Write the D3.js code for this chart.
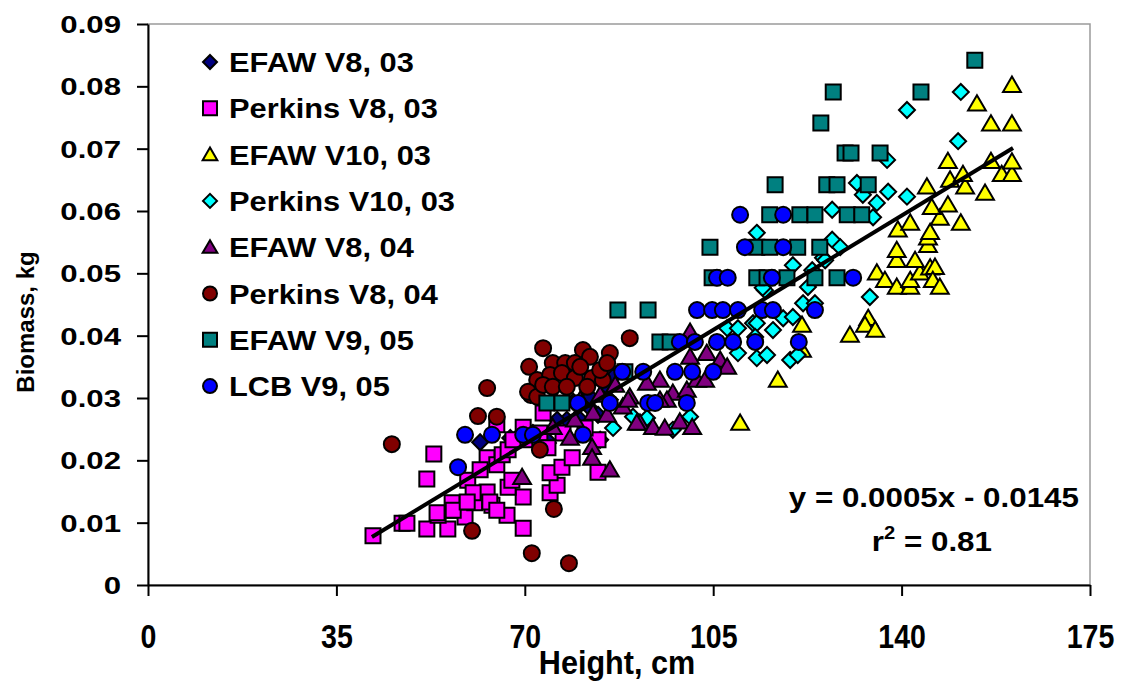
<!DOCTYPE html>
<html><head><meta charset="utf-8">
<script src="https://cdn.jsdelivr.net/npm/d3@7"></script>
<style>
html,body{margin:0;padding:0;background:#fff;}
svg{display:block;font-family:"Liberation Sans",Arial,sans-serif;font-weight:bold;}
</style></head>
<body><svg id="chart" width="1128" height="684"></svg>
<script>
// ---------- DATA ----------
const seriesNames = ["EFAW V8, 03","Perkins V8, 03","EFAW V10, 03","Perkins V10, 03","EFAW V8, 04","Perkins V8, 04","EFAW V9, 05","LCB V9, 05"];
const xTicks = [0,35,70,105,140,175];
const yTicks = [0,0.01,0.02,0.03,0.04,0.05,0.06,0.07,0.08,0.09];

const efawV8_03 = [[61.7,0.0229],[68.5,0.0231],[80.3,0.0265],[82.1,0.0284],[84.0,0.0233],[77.8,0.0265],[85.8,0.0297],[85.3,0.0318],[69.1,0.0241],[74.3,0.0228],[79.0,0.0294],[82.1,0.0302],[83.6,0.0273],[76.0,0.0265],[74.1,0.0233],[71.5,0.0244],[86.4,0.0334],[67.3,0.0236]];

const perkinsV8_03 = [[41.8,0.0079],[47.2,0.0099],[48.1,0.0099],[53.1,0.0210],[51.8,0.0170],[51.8,0.0090],[55.7,0.0090],[57.0,0.0120],[53.9,0.0112],[58.9,0.0109],[56.5,0.0132],[63.0,0.0149],[60.7,0.0132],[63.9,0.0128],[66.7,0.0112],[69.7,0.0091],[69.7,0.0141],[66.9,0.0157],[63.0,0.0204],[64.8,0.0193],[65.8,0.0209],[66.9,0.0217],[69.7,0.0253],[64.8,0.0257],[59.4,0.0168],[60.4,0.0148],[73.4,0.0276],[77.1,0.0244],[74.7,0.0148],[76.0,0.0160],[74.7,0.0180],[76.9,0.0189],[78.8,0.0204],[83.6,0.0181],[83.6,0.0233],[63.5,0.0133],[64.8,0.0120],[53.7,0.0116],[56.7,0.0120],[59.3,0.0133],[72.8,0.0244],[70.0,0.0233],[67.8,0.0233],[81.2,0.0252],[74.3,0.0220],[67.6,0.0168],[61.7,0.0185]];

const efawV10_03 = [[110.0,0.0260],[117.0,0.0329],[121.5,0.0377],[121.5,0.0417],[130.4,0.0401],[133.8,0.0428],[133.2,0.0417],[135.1,0.0409],[135.4,0.0501],[136.9,0.0489],[139.1,0.0478],[141.6,0.0478],[141.6,0.0489],[143.4,0.0501],[145.3,0.0509],[146.2,0.0510],[145.8,0.0489],[147.1,0.0478],[139.1,0.0521],[142.5,0.0521],[139.1,0.0537],[144.9,0.0545],[144.9,0.0557],[145.3,0.0566],[139.3,0.0570],[141.6,0.0581],[151.0,0.0581],[147.1,0.0589],[145.6,0.0606],[148.6,0.0610],[144.7,0.0639],[151.8,0.0639],[155.5,0.0629],[149.0,0.0650],[151.4,0.0659],[158.6,0.0659],[160.5,0.0659],[148.6,0.0680],[156.6,0.0680],[160.5,0.0679],[156.6,0.0740],[160.5,0.0740],[154.0,0.0772],[160.5,0.0802]];

const perkinsV10_03 = [[86.4,0.0252],[90.1,0.0270],[92.7,0.0268],[97.5,0.0249],[100.7,0.0270],[107.6,0.0412],[109.6,0.0412],[112.4,0.0420],[113.1,0.0565],[109.6,0.0372],[113.1,0.0364],[115.0,0.0369],[119.3,0.0361],[120.7,0.0369],[114.6,0.0473],[116.1,0.0409],[118.0,0.0428],[119.8,0.0430],[113.1,0.0420],[119.8,0.0513],[123.4,0.0505],[122.6,0.0478],[121.7,0.0452],[123.9,0.0452],[125.4,0.0525],[127.1,0.0554],[128.6,0.0542],[127.1,0.0602],[131.7,0.0645],[132.8,0.0626],[135.4,0.0613],[137.5,0.0631],[141.0,0.0623],[134.7,0.0590],[134.1,0.0462],[137.3,0.0682],[150.5,0.0712],[141.0,0.0762],[151.0,0.0791],[125.8,0.0521],[114.2,0.0477],[112.8,0.0398]];

const efawV8_04 = [[69.5,0.0173],[75.2,0.0253],[82.5,0.0221],[82.5,0.0204],[85.8,0.0185],[78.4,0.0236],[82.7,0.0276],[85.3,0.0273],[88.2,0.0286],[91.4,0.0260],[93.8,0.0253],[96.0,0.0252],[98.8,0.0262],[101.1,0.0253],[89.5,0.0302],[95.1,0.0329],[97.5,0.0308],[96.4,0.0297],[100.1,0.0313],[100.7,0.0366],[103.8,0.0372],[106.3,0.0361],[107.6,0.0350],[100.7,0.0406],[85.5,0.0356],[92.7,0.0324],[90.8,0.0260],[89.2,0.0297],[95.1,0.0297],[102.0,0.0329],[80.3,0.0297],[84.0,0.0305],[86.8,0.0321],[103.5,0.0329],[75.6,0.0297],[79.3,0.0265]];

const perkinsV8_04 = [[45.3,0.0226],[63.0,0.0316],[61.3,0.0271],[64.8,0.0270],[60.2,0.0087],[71.3,0.0051],[78.2,0.0035],[75.4,0.0122],[72.8,0.0217],[73.4,0.0380],[89.5,0.0396],[70.8,0.0350],[71.1,0.0305],[72.3,0.0329],[80.8,0.0377],[85.8,0.0372],[75.2,0.0356],[77.5,0.0356],[79.3,0.0356],[82.1,0.0366],[74.7,0.0337],[76.9,0.0340],[79.3,0.0332],[82.5,0.0332],[84.5,0.0329],[84.0,0.0345],[80.3,0.0350],[70.6,0.0310],[72.3,0.0302],[73.4,0.0321],[75.2,0.0318],[77.8,0.0318],[81.6,0.0318],[85.3,0.0356]];

const efawV9_05 = [[74.1,0.0292],[76.9,0.0292],[88.6,0.0342],[95.1,0.0390],[97.0,0.0390],[87.3,0.0441],[92.9,0.0441],[104.8,0.0493],[113.1,0.0493],[115.0,0.0493],[118.7,0.0493],[123.9,0.0493],[128.0,0.0493],[104.4,0.0542],[113.1,0.0542],[115.5,0.0542],[120.7,0.0542],[124.8,0.0542],[115.5,0.0594],[121.1,0.0594],[123.9,0.0594],[129.9,0.0594],[132.6,0.0594],[116.5,0.0642],[126.1,0.0642],[128.0,0.0642],[133.8,0.0642],[129.5,0.0693],[130.6,0.0693],[136.0,0.0693],[125.0,0.0741],[127.3,0.0791],[143.6,0.0791],[153.6,0.0842]];

const lcbV9_05 = [[57.6,0.0189],[58.9,0.0241],[63.9,0.0241],[69.7,0.0241],[71.5,0.0241],[80.8,0.0241],[79.9,0.0292],[85.8,0.0292],[92.9,0.0292],[94.2,0.0292],[100.1,0.0292],[88.1,0.0342],[92.0,0.0342],[97.9,0.0342],[101.1,0.0342],[105.0,0.0342],[98.8,0.0390],[101.6,0.0390],[105.7,0.0390],[108.7,0.0390],[112.8,0.0390],[120.9,0.0390],[102.0,0.0441],[104.8,0.0441],[106.8,0.0441],[109.6,0.0441],[114.1,0.0441],[116.1,0.0441],[123.9,0.0441],[105.7,0.0493],[107.7,0.0493],[115.9,0.0493],[131.0,0.0493],[110.9,0.0542],[118.0,0.0542],[110.0,0.0594],[118.0,0.0594]];

// linear trendline (as shown) and its x-extent
const trendSlope = 0.000524;
const trendIntercept = -0.0141;
const trendX = [41.6, 160.7];
const equationText = "y = 0.0005x - 0.0145";
const r2Value = "0.81";

// ---------- STYLE ----------
const seriesData = [efawV8_03, perkinsV8_03, efawV10_03, perkinsV10_03, efawV8_04, perkinsV8_04, efawV9_05, lcbV9_05];
const seriesShape = ["diamond","square","triangle","diamond","triangle","circle","square","circle"];
const seriesColor = ["#000080","#ff00ff","#ffff00","#00ffff","#800080","#800000","#008080","#0000ff"];

const L = 148, R = 1090, T = 24, B = 585;
const svg = d3.select("#chart");
const x = d3.scaleLinear().domain([0,175]).range([L,R]);
const y = d3.scaleLinear().domain([0,0.09]).range([B,T]);

function shapePath(shape, s){
  switch(shape){
    case "square": return `M${-s},${-s}H${s}V${s}H${-s}Z`;
    case "diamond": return `M0,${-s}L${s},0L0,${s}L${-s},0Z`;
    case "triangle": return `M0,${-s}L${s*1.05},${s*0.8}L${-s*1.05},${s*0.8}Z`;
    case "circle": { const p = d3.path(); p.arc(0,0,s,0,2*Math.PI); p.closePath(); return p.toString(); }
  }
}
const markerHalf = {square:7.5, diamond:8, triangle:8.5, circle:8};

// plot border (gray top/right)
svg.append("rect").attr("x",L).attr("y",T).attr("width",R-L).attr("height",B-T)
  .attr("fill","none").attr("stroke","#9a9a9a").attr("stroke-width",1.5);

// markers
const gPts = svg.append("g");
seriesData.forEach((data,i)=>{
  const shp = seriesShape[i];
  gPts.append("g").selectAll("path").data(data).join("path")
    .attr("d", shapePath(shp, markerHalf[shp]))
    .attr("transform", d=>`translate(${x(d[0])},${y(d[1])})`)
    .attr("fill", seriesColor[i])
    .attr("stroke","#000").attr("stroke-width",2);
});

// trendline
svg.append("line")
  .attr("x1", x(trendX[0])).attr("y1", y(trendSlope*trendX[0]+trendIntercept))
  .attr("x2", x(trendX[1])).attr("y2", y(trendSlope*trendX[1]+trendIntercept))
  .attr("stroke","#000").attr("stroke-width",4);

// axes
const yAxis = d3.axisLeft(y).tickValues(yTicks).tickSize(11).tickSizeOuter(0)
  .tickFormat(d=> d===0 ? "0" : d.toFixed(2)).tickPadding(16);
const gy = svg.append("g").attr("transform",`translate(${L},0)`).call(yAxis);
gy.select(".domain").attr("stroke","#000").attr("stroke-width",2);
gy.selectAll(".tick line").attr("stroke","#000").attr("stroke-width",2);
gy.selectAll(".tick text").attr("font-size",24).attr("font-family","Liberation Sans, Arial, sans-serif")
  .attr("font-weight","bold").attr("fill","#000").attr("dy","0.36em")
  .attr("transform","translate(-27,0) scale(1.3,1) translate(27,0)");

const xAxis = d3.axisBottom(x).tickValues(xTicks).tickSize(11).tickSizeOuter(0).tickPadding(0);
const gx = svg.append("g").attr("transform",`translate(0,${B})`).call(xAxis);
gx.select(".domain").attr("stroke","#000").attr("stroke-width",2);
gx.selectAll(".tick line").attr("stroke","#000").attr("stroke-width",2);
gx.selectAll(".tick text").attr("font-size",34).attr("font-family","Liberation Sans, Arial, sans-serif")
  .attr("font-weight","bold").attr("fill","#000").attr("dy",0).attr("y",0)
  .attr("transform","translate(0,63) scale(0.84,1)");

// axis titles
svg.append("text").attr("transform","translate(617,674) scale(0.9,1)").attr("text-anchor","middle")
  .attr("font-size",34).text("Height, cm");
svg.append("text").attr("transform","translate(34,322) rotate(-90)").attr("text-anchor","middle")
  .attr("font-size",24).text("Biomass, kg");

// legend
const lg = svg.append("g");
seriesNames.forEach((name,i)=>{
  const cy = 62 + i*46.3;
  const shp = seriesShape[i];
  lg.append("path").attr("d", shapePath(shp, 7))
    .attr("transform",`translate(210,${cy})`).attr("fill",seriesColor[i])
    .attr("stroke","#000").attr("stroke-width",2);
  lg.append("text").attr("dy","0.36em")
    .attr("transform",`translate(229,${cy}) scale(1.1,1)`)
    .attr("font-size",28).text(name);
});

// equation
svg.append("text").attr("transform","translate(1079,507) scale(1.12,1)").attr("text-anchor","end")
  .attr("font-size",28).text(equationText);
const r2 = svg.append("text").attr("transform","translate(992,551) scale(1.12,1)").attr("text-anchor","end")
  .attr("font-size",28);
r2.append("tspan").text("r");
r2.append("tspan").attr("font-size",18).attr("dy",-12).text("2");
r2.append("tspan").attr("dy",12).text(" = " + r2Value);
</script></body></html>
